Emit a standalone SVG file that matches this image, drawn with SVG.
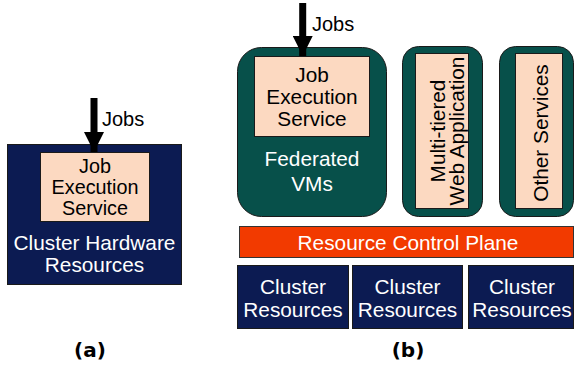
<svg xmlns="http://www.w3.org/2000/svg" width="575" height="366" viewBox="0 0 575 366">
<defs>
<style>
.navy{fill:#0c1b52;stroke:#1a1a1a;stroke-width:1}
.teal{fill:#07504a;stroke:#1a1a1a;stroke-width:1}
.peach{fill:#fcd9c1;stroke:#1a1a1a;stroke-width:1}
.red{fill:#f23a00;stroke:#333;stroke-width:1}
text{font-family:"Liberation Sans",Arial,sans-serif;font-size:20.8px;text-anchor:middle}
.w{fill:#ffffff}
.k{fill:#000000}
.lbl{font-family:"DejaVu Sans",sans-serif;font-weight:bold;font-size:20px}
.jobs{font-size:20px;text-anchor:start}
.arrow{stroke:#000;stroke-width:7;fill:none}
</style>
<marker id="ah" markerUnits="userSpaceOnUse" viewBox="0 0 20 20" refX="20" refY="10" markerWidth="20" markerHeight="20" orient="auto">
<path d="M0,0 L20,10 L0,20 Z" fill="#000"/>
</marker>
</defs>
<rect width="575" height="366" fill="#ffffff"/>
<g id="a-cluster-hardware">
<rect class="navy" x="7.5" y="144.5" width="174" height="140"/>
<text class="w" x="94.5" y="249.5">Cluster Hardware</text>
<text class="w" x="94.5" y="272">Resources</text>
</g>
<g id="a-job-execution">
<rect class="peach" x="40.5" y="152.5" width="109" height="69"/>
<text class="k" x="95" y="173" style="font-size:19.8px">Job</text>
<text class="k" x="95" y="194" style="font-size:19.8px">Execution</text>
<text class="k" x="95" y="215" style="font-size:19.8px">Service</text>
</g>
<g id="b-federated-vms">
<rect class="teal" x="237.5" y="47.5" width="149" height="169" rx="24"/>
<text class="w" x="312" y="166">Federated</text>
<text class="w" x="312" y="191">VMs</text>
</g>
<g id="b-job-execution">
<rect class="peach" x="254.5" y="56.5" width="115" height="80"/>
<text class="k" x="312" y="82">Job</text>
<text class="k" x="312" y="104">Execution</text>
<text class="k" x="312" y="125.5">Service</text>
</g>
<g id="b-multitier">
<rect class="teal" x="402.5" y="46.5" width="80" height="170" rx="16"/>
<rect class="peach" x="415.5" y="53.5" width="53" height="155"/>
<text class="k" transform="translate(444.5,131) rotate(-90)">Multi-tiered</text>
<text class="k" transform="translate(463.5,131) rotate(-90)">Web Application</text>
</g>
<g id="b-other">
<rect class="teal" x="499.5" y="46.5" width="74" height="170" rx="16"/>
<rect class="peach" x="515.5" y="53.5" width="47" height="155"/>
<text class="k" transform="translate(548,133) rotate(-90)">Other Services</text>
</g>
<g id="b-control-plane">
<rect class="red" x="239.5" y="226.5" width="334" height="31"/>
<text class="w" x="408" y="249.5">Resource Control Plane</text>
</g>
<g id="b-cluster-1">
<rect class="navy" x="237.5" y="265.5" width="111" height="63"/>
<text class="w" x="293" y="293.5">Cluster</text>
<text class="w" x="293" y="317">Resources</text>
</g>
<g id="b-cluster-2">
<rect class="navy" x="352.5" y="265.5" width="110" height="63"/>
<text class="w" x="407.5" y="293.5">Cluster</text>
<text class="w" x="407.5" y="317">Resources</text>
</g>
<g id="b-cluster-3">
<rect class="navy" x="468.5" y="265.5" width="105" height="63"/>
<text class="w" x="522" y="293.5">Cluster</text>
<text class="w" x="522" y="317">Resources</text>
</g>
<g id="connectors">
<line class="arrow" x1="94" y1="98" x2="94" y2="152" marker-end="url(#ah)"/>
<line class="arrow" x1="302.7" y1="3" x2="302.7" y2="56" marker-end="url(#ah)"/>
</g>
<g id="labels">
<text class="k jobs" x="102" y="126">Jobs</text>
<text class="k jobs" x="312" y="31">Jobs</text>
<text class="k lbl" x="90" y="357">(a)</text>
<text class="k lbl" x="408" y="357">(b)</text>
</g>
</svg>
